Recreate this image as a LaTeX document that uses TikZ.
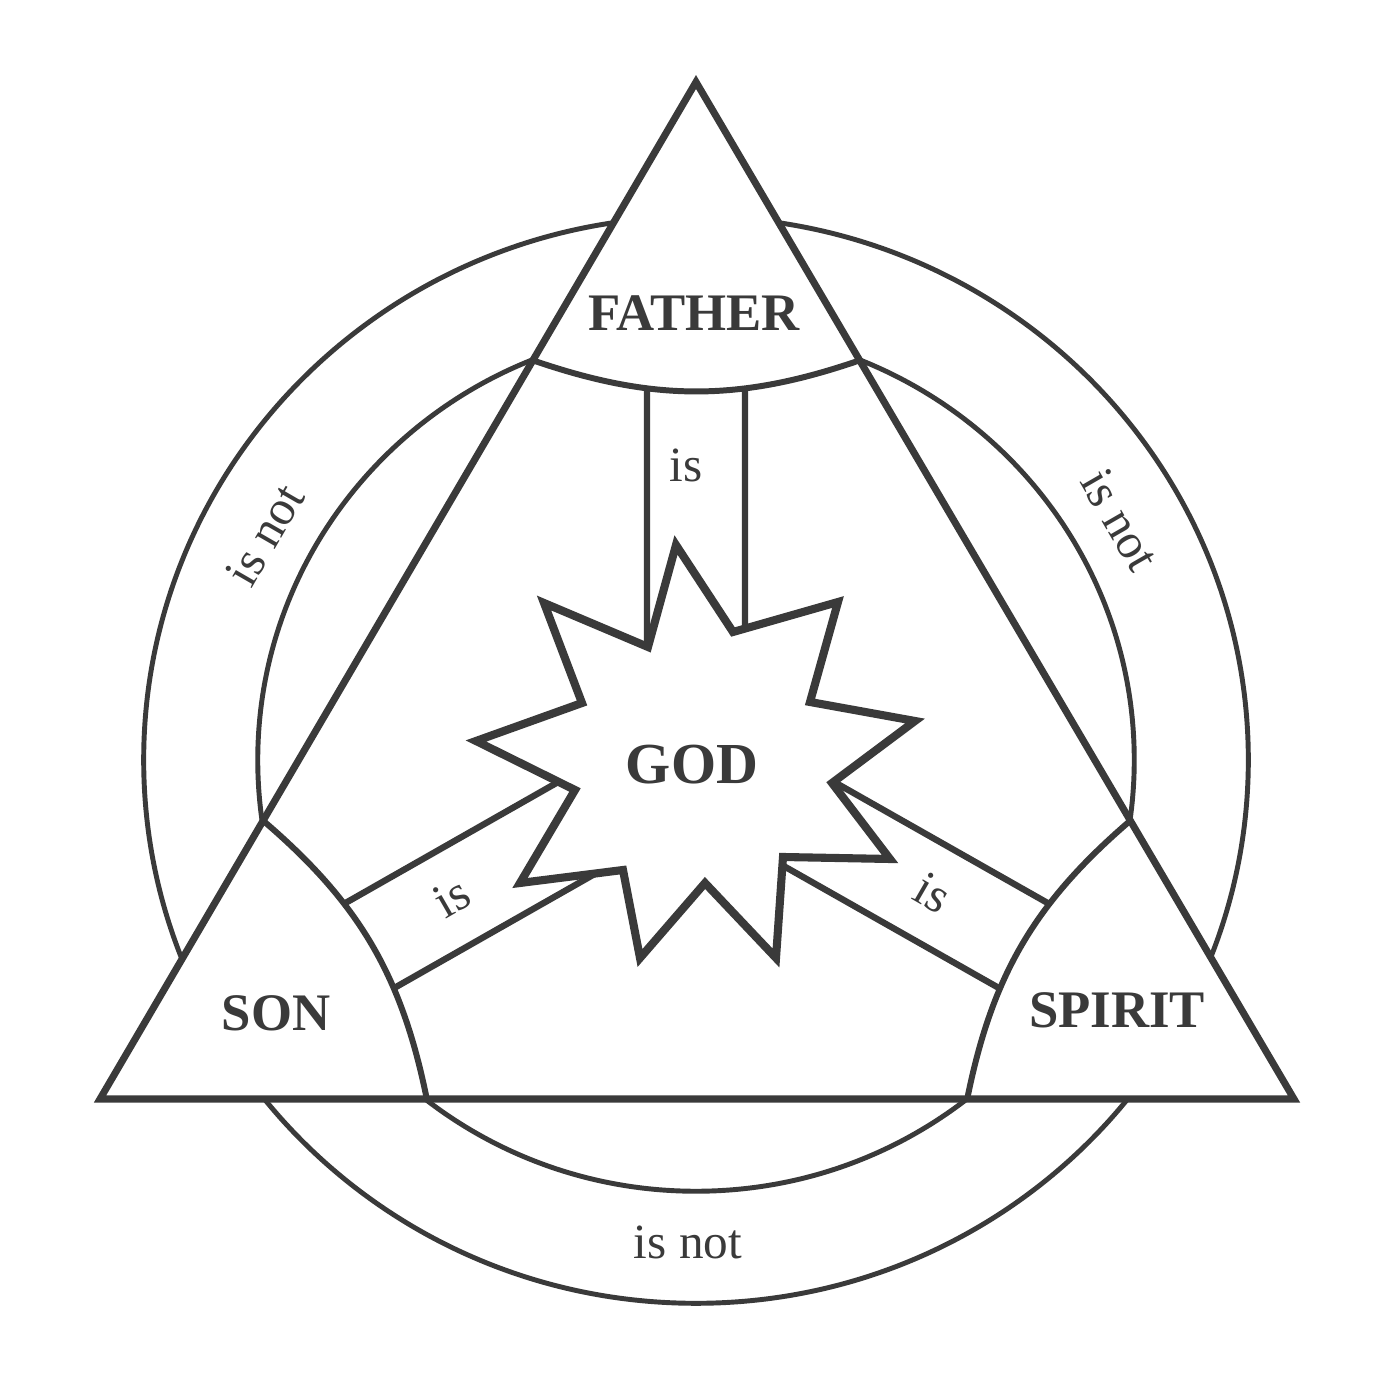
\documentclass[tikz,border=0pt]{standalone}
\usepackage{fontspec}
\setmainfont{Liberation Serif}
\usepackage{tikz}
\usetikzlibrary{calc}
\definecolor{ink}{RGB}{58,58,58}

\begin{document}
\begin{tikzpicture}[x=0.01cm, y=0.01cm, outer sep=0pt, line join=miter]

\tikzstyle{ring}=[draw=ink, line width=1.4pt]
\tikzstyle{edge}=[draw=ink, line width=2pt]
\tikzstyle{bar}=[draw=ink, line width=1.8pt]
\tikzstyle{capline}=[draw=ink, line width=1.7pt]
\tikzstyle{person}=[text=ink, font=\fontsize{15}{17}\selectfont\bfseries, inner sep=0pt]
\tikzstyle{link}=[text=ink, font=\fontsize{14}{16}\selectfont, inner sep=0pt]

\useasboundingbox (0,0) rectangle (1400,1400);
\fill[white] (0,0) rectangle (1400,1400);

\coordinate (top) at (696,1318);
\coordinate (bl) at (100,301);
\coordinate (br) at (1294,301);
\coordinate (centre) at (696,640);

% the two rings
\draw[ring] (centre) ellipse [x radius=5.52cm, y radius=5.43cm];
\draw[ring] (centre) ellipse [x radius=4.38cm, y radius=4.31cm];
\fill[white] (top) -- (bl) -- (br) -- cycle;

% the three "is" bars, starting under the corner caps
\coordinate (ftail) at ($(top)!0.22!(centre)$);
\coordinate (stail) at ($(bl)!0.22!(centre)$);
\coordinate (ptail) at ($(br)!0.22!(centre)$);
\draw[bar] ($(ftail)+(0:49)$) -- ($(centre)+(0:49)$);
\draw[bar] ($(ftail)+(180:49)$) -- ($(centre)+(180:49)$);
\draw[bar] ($(stail)+(120:49)$) -- ($(centre)+(120:49)$);
\draw[bar] ($(stail)+(300:49)$) -- ($(centre)+(300:49)$);
\draw[bar] ($(ptail)+(60:49)$) -- ($(centre)+(60:49)$);
\draw[bar] ($(ptail)+(240:49)$) -- ($(centre)+(240:49)$);

% corners
\coordinate (fl) at ($(top)!0.2737!(bl)$);
\coordinate (fr) at ($(top)!0.2737!(br)$);
\coordinate (sl) at ($(bl)!0.2737!(top)$);
\coordinate (sb) at ($(bl)!0.2737!(br)$);
\coordinate (pr) at ($(br)!0.2737!(top)$);
\coordinate (pb) at ($(br)!0.2737!(bl)$);
\fill[white] (top) -- (fl) to[bend right=19] (fr) -- cycle;
\fill[white] (bl) -- (sl) to[bend left=19] (sb) -- cycle;
\fill[white] (br) -- (pr) to[bend right=19] (pb) -- cycle;
\draw[capline] (fl) to[bend right=19] (fr);
\draw[capline] (sl) to[bend left=19] (sb);
\draw[capline] (pr) to[bend right=19] (pb);

% star
\filldraw[fill=white, draw=ink, line width=2.3pt] (676,855) -- (733,768) -- (838,798) -- (810,698)
  -- (915,679) -- (832,617) -- (890,541) -- (783,543) -- (776,442) -- (705,517)
  -- (640,442) -- (623,530) -- (520,517) -- (575,610) -- (476,659) -- (582,697)
  -- (544,797) -- (648,753) -- cycle;

\draw[edge] (top) -- (bl) -- (br) -- cycle;

\node[person] (father) at (694,1087) {FATHER};
\node[person] (son) at (276,387) {SON};
\node[person] (spirit) at (1117,390) {SPIRIT};
\node[person, font=\fontsize{16.5}{18}\selectfont\bfseries] (god) at (692,635) {GOD};

\node[link] (isf) at (686,935) {is};
\node[link, rotate=30] (iss) at (452,503) {is};
\node[link, rotate=-30] (isp) at (933,507) {is};
\node[link, rotate=60] (notfs) at (265,865) {is not};
\node[link, rotate=-60] (notfp) at (1120,880) {is not};
\node[link] (notsp) at (688,158) {is not};
\end{tikzpicture}
\end{document}
